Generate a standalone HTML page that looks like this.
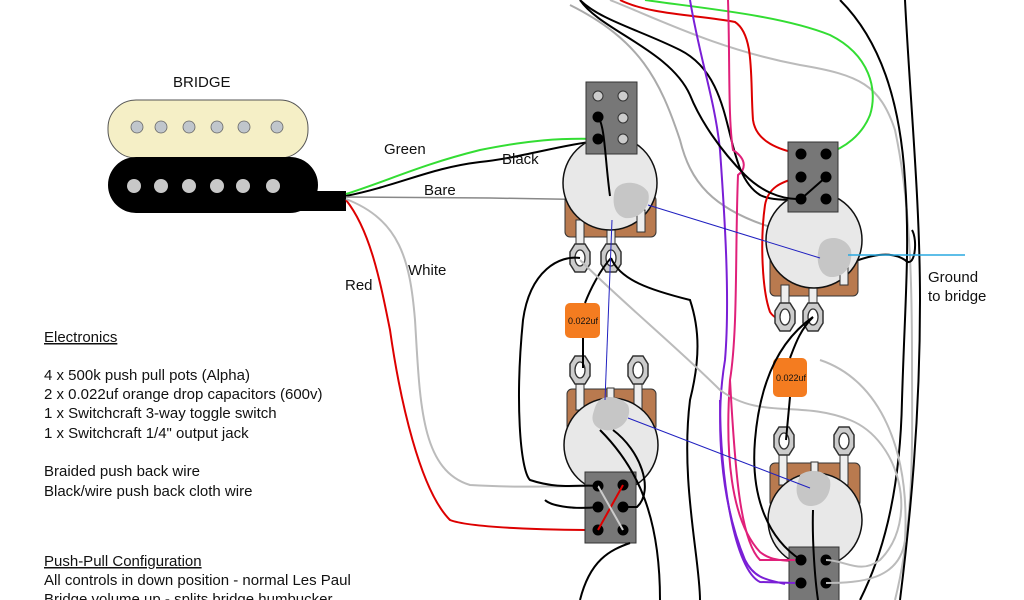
<!DOCTYPE html>
<html><head><meta charset="utf-8"><style>
html,body{margin:0;padding:0;background:#fff;width:1024px;height:600px;overflow:hidden}
svg{display:block}
text{font-family:"Liberation Sans",Arial,sans-serif;fill:#111}
</style></head><body>
<svg width="1024" height="600" viewBox="0 0 1024 600" xmlns="http://www.w3.org/2000/svg">
<defs>
<g id="lug"><path d="M-5,-14 L5,-14 L10,-6 L10,6 L5,14 L-5,14 L-10,6 L-10,-6 Z" fill="#ccc" stroke="#333" stroke-width="1.5"/><ellipse cx="0" cy="0" rx="5" ry="8" fill="#fff" stroke="#333" stroke-width="1.3"/></g>
</defs>
<g fill="none" stroke-width="2">
<path d="M580,0 C600,20 640,30 680,50 C740,80 720,170 760,195 C770,200 785,200 800,200" stroke="#000"/>
<path d="M570,5 C640,40 660,80 680,140 C690,180 710,210 780,230 C800,236 820,240 840,245" stroke="#aaa"/>
<path d="M610,0 C660,20 720,50 800,65 C860,75 880,85 895,130 C910,200 912,280 912,360 C912,440 915,520 895,600" stroke="#bbb"/>
<path d="M840,0 C880,40 900,100 905,180 C910,250 905,300 902,400 C900,500 880,560 860,600" stroke="#000"/>
<path d="M905,0 C910,100 920,200 920,300 C920,420 910,520 900,600" stroke="#000"/>
<path d="M620,0 C650,15 700,15 735,22 C755,35 750,80 753,120 C756,142 780,150 800,154" stroke="#d00"/>
<path d="M645,0 C700,8 780,15 830,35 C870,55 878,90 870,115 C862,135 845,148 826,154" stroke="#3d3"/>
<path d="M690,0 C700,60 715,100 720,150 C725,220 730,300 725,360 C715,420 720,500 745,560 C755,580 770,580 785,584" stroke="#7a1fd6"/>
<path d="M728,0 C730,60 728,120 733,150 C748,160 745,170 738,175 C735,250 738,330 730,380 C725,450 730,520 760,552 C770,560 780,560 790,561" stroke="#e0207a"/>
<path d="M800,177 C780,182 768,188 765,205 C760,240 762,290 770,312 C774,318 780,320 785,320" stroke="#d00"/>
<path d="M845,265 C870,255 890,250 905,260 C915,270 918,240 912,230" stroke="#000"/>
</g>
<text x="173" y="87" font-size="15">BRIDGE</text>
<rect x="108" y="100" width="200" height="58" rx="28" fill="#f5efc6" stroke="#555" stroke-width="1"/>
<g fill="#c0c6cc" stroke="#666" stroke-width="0.8">
<circle cx="137" cy="127" r="6"/><circle cx="161" cy="127" r="6"/><circle cx="189" cy="127" r="6"/><circle cx="217" cy="127" r="6"/><circle cx="244" cy="127" r="6"/><circle cx="277" cy="127" r="6"/></g>
<rect x="108" y="157" width="210" height="56" rx="28" fill="#000"/>
<rect x="300" y="191" width="46" height="20" fill="#000"/>
<g fill="#c8c8c8"><circle cx="134" cy="186" r="7"/><circle cx="161" cy="186" r="7"/><circle cx="189" cy="186" r="7"/><circle cx="217" cy="186" r="7"/><circle cx="243" cy="186" r="7"/><circle cx="273" cy="186" r="7"/></g>
<g fill="none">
<path d="M346,194 C390,180 420,165 480,150 C530,140 560,138 597,139" stroke="#3d3" stroke-width="2"/>
<path d="M346,196 C400,185 430,168 480,162 C520,158 560,145 597,141" stroke="#000" stroke-width="2"/>
<path d="M346,197 L490,198 L610,200" stroke="#888" stroke-width="1.5"/>
<path d="M346,200 C370,230 380,280 390,330 C400,400 420,490 450,520 C470,528 550,530 598,530" stroke="#d00" stroke-width="2"/>
<path d="M346,199 C400,220 410,260 415,320 C420,400 420,470 470,485 C520,488 560,486 598,486" stroke="#bbb" stroke-width="2"/>
</g>
<text x="384" y="154" font-size="15">Green</text>
<text x="502" y="164" font-size="15">Black</text>
<text x="424" y="195" font-size="15">Bare</text>
<text x="408" y="275" font-size="15">White</text>
<text x="345" y="290" font-size="15">Red</text>
<text x="928" y="282" font-size="15">Ground</text>
<text x="928" y="301" font-size="15">to bridge</text>
<g font-size="15">
<text x="44" y="342" text-decoration="underline">Electronics</text>
<text x="44" y="380">4 x 500k push pull pots (Alpha)</text>
<text x="44" y="399">2 x 0.022uf orange drop capacitors (600v)</text>
<text x="44" y="418">1 x Switchcraft 3-way toggle switch</text>
<text x="44" y="438">1 x Switchcraft 1/4" output jack</text>
<text x="44" y="476">Braided push back wire</text>
<text x="44" y="496">Black/wire push back cloth wire</text>
<text x="44" y="566" text-decoration="underline">Push-Pull Configuration</text>
<text x="44" y="585">All controls in down position - normal Les Paul</text>
<text x="44" y="604">Bridge volume up - splits bridge humbucker</text>
</g>
<!-- POT A -->
<rect x="565" y="195" width="91" height="42" rx="5" fill="#b97a4f" stroke="#333"/>
<rect x="576" y="220" width="8" height="26" fill="#eee" stroke="#333"/><rect x="607" y="220" width="8" height="26" fill="#eee" stroke="#333"/>
<use href="#lug" x="580" y="258"/><use href="#lug" x="611" y="258"/>
<circle cx="610" cy="183" r="47" fill="#e8e8e8" stroke="#111" stroke-width="1.5"/>
<rect x="637" y="210" width="8" height="22" fill="#eee" stroke="#333"/>
<path d="M615,190 C620,180 640,180 648,192 C652,205 640,220 625,218 C613,215 612,200 615,190Z" fill="#c6c6c6"/>
<rect x="586" y="82" width="51" height="72" fill="#777" stroke="#333"/>
<g fill="#ccc" stroke="#333"><circle cx="598" cy="96" r="5"/><circle cx="623" cy="96" r="5"/><circle cx="623" cy="118" r="5"/><circle cx="623" cy="139" r="5"/></g>
<g fill="#000"><circle cx="598" cy="117" r="5.5"/><circle cx="598" cy="139" r="5.5"/></g>
<path d="M598,117 C605,125 605,160 610,196" stroke="#000" fill="none" stroke-width="2"/>
<!-- POT B -->
<rect x="770" y="240" width="88" height="56" rx="5" fill="#b97a4f" stroke="#333"/>
<rect x="781" y="285" width="8" height="22" fill="#eee" stroke="#333"/><rect x="809" y="285" width="8" height="22" fill="#eee" stroke="#333"/>
<use href="#lug" x="785" y="317"/><use href="#lug" x="813" y="317"/>
<circle cx="814" cy="240" r="48" fill="#e8e8e8" stroke="#111" stroke-width="1.5"/>
<rect x="840" y="265" width="8" height="20" fill="#eee" stroke="#333"/>
<path d="M820,245 C825,235 845,235 851,250 C853,265 845,278 830,277 C818,275 815,258 820,245Z" fill="#c6c6c6"/>
<rect x="788" y="142" width="50" height="70" fill="#777" stroke="#333"/>
<g fill="#000"><circle cx="801" cy="154" r="5.5"/><circle cx="826" cy="154" r="5.5"/><circle cx="801" cy="177" r="5.5"/><circle cx="826" cy="177" r="5.5"/><circle cx="801" cy="199" r="5.5"/><circle cx="826" cy="199" r="5.5"/></g>
<path d="M801,199 L826,177" stroke="#000" stroke-width="2"/>
<path d="M801,199 C780,200 760,190 745,175 C720,150 700,120 690,95 C670,50 600,30 580,0" stroke="#000" fill="none" stroke-width="2"/>
<path d="M848,255 L965,255" stroke="#29a8e0" stroke-width="1.5"/>
<rect x="565" y="303" width="35" height="35" rx="5" fill="#f47c20"/><text x="568" y="324" font-size="9">0.022uf</text>
<rect x="773" y="358" width="34" height="39" rx="5" fill="#f47c20"/><text x="776" y="381" font-size="9">0.022uf</text>
<!-- POT C -->
<rect x="567" y="389" width="89" height="42" rx="5" fill="#b97a4f" stroke="#333"/>
<rect x="576" y="380" width="8" height="30" fill="#eee" stroke="#333"/><rect x="634" y="380" width="8" height="30" fill="#eee" stroke="#333"/>
<use href="#lug" x="580" y="370"/><use href="#lug" x="638" y="370"/>
<circle cx="611" cy="445" r="47" fill="#e8e8e8" stroke="#111" stroke-width="1.5"/>
<rect x="607" y="388" width="7" height="10" fill="#eee" stroke="#333"/>
<path d="M600,400 C605,395 620,396 628,405 C632,415 625,428 612,430 C600,432 590,425 593,414 C595,407 596,403 600,400Z" fill="#c6c6c6"/>
<rect x="585" y="472" width="51" height="71" fill="#777" stroke="#333"/>
<g fill="#000"><circle cx="598" cy="486" r="5.5"/><circle cx="623" cy="485" r="5.5"/><circle cx="598" cy="507" r="5.5"/><circle cx="623" cy="507" r="5.5"/><circle cx="598" cy="530" r="5.5"/><circle cx="623" cy="530" r="5.5"/></g>
<path d="M598,530 L623,485" stroke="#d00" stroke-width="2"/>
<path d="M598,486 L623,530" stroke="#ccc" stroke-width="2"/>
<!-- POT D -->
<rect x="770" y="463" width="90" height="44" rx="5" fill="#b97a4f" stroke="#333"/>
<rect x="779" y="455" width="8" height="30" fill="#eee" stroke="#333"/><rect x="840" y="455" width="8" height="30" fill="#eee" stroke="#333"/>
<use href="#lug" x="784" y="441"/><use href="#lug" x="844" y="441"/>
<circle cx="815" cy="520" r="47" fill="#e8e8e8" stroke="#111" stroke-width="1.5"/>
<rect x="811" y="462" width="7" height="10" fill="#eee" stroke="#333"/>
<path d="M800,475 C810,468 825,470 830,480 C832,492 825,505 812,506 C800,507 795,495 797,485Z" fill="#c6c6c6"/>
<rect x="789" y="547" width="50" height="60" fill="#777" stroke="#333"/>
<g fill="#000"><circle cx="801" cy="560" r="5.5"/><circle cx="826" cy="560" r="5.5"/><circle cx="801" cy="583" r="5.5"/><circle cx="826" cy="583" r="5.5"/></g>
<g fill="none" stroke-width="2">
<path d="M580,258 C560,255 530,270 523,320 C515,400 520,470 530,480 C560,490 580,484 598,486" stroke="#000"/>
<path d="M611,258 C600,270 590,290 585,303" stroke="#000"/>
<path d="M611,258 C620,280 650,290 690,300 C700,330 700,360 690,400 C680,480 700,560 700,600" stroke="#000"/>
<path d="M583,338 L583,368" stroke="#000"/>
<path d="M580,260 C620,300 680,350 720,390 C760,420 800,400 850,420 C900,440 920,520 880,560 C860,575 845,560 826,560" stroke="#bbb"/>
<path d="M600,430 C640,470 660,520 660,600" stroke="#000"/>
<path d="M598,507 C570,510 550,505 545,500" stroke="#000"/>
<path d="M613,430 C640,450 655,490 637,507 L623,507" stroke="#000"/>
<path d="M813,317 C800,330 795,345 790,358" stroke="#000"/>
<path d="M813,317 C780,340 760,380 755,440 C750,500 770,540 801,560" stroke="#000"/>
<path d="M790,397 L786,440" stroke="#000"/>
<path d="M813,510 C812,540 815,580 818,600" stroke="#000"/>
<path d="M826,583 C860,583 900,580 905,540 C910,450 880,380 820,360" stroke="#bbb"/>
<path d="M730,380 C735,470 740,540 760,560 L795,560" stroke="#e0207a"/>
<path d="M720,400 C720,480 735,570 760,582 L795,583" stroke="#7a1fd6"/>
<path d="M580,600 C590,560 610,550 630,543" stroke="#000"/>
</g>
<g stroke="#2020c0" stroke-width="1" fill="none">
<path d="M648,205 L820,258"/><path d="M628,418 L810,488"/><path d="M612,220 L605,400"/>
</g>
</svg>
</body></html>
